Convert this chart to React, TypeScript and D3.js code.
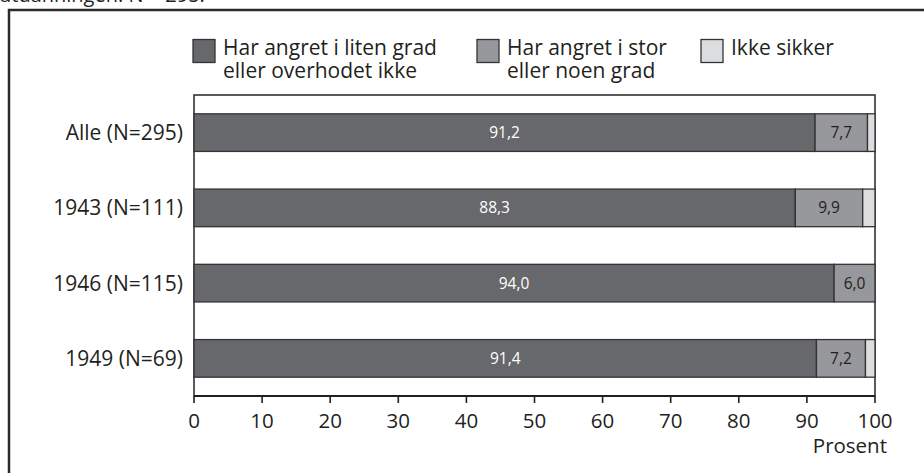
import React from "react";
import * as d3 from "d3";

const categories = ["Alle (N=295)", "1943 (N=111)", "1946 (N=115)", "1949 (N=69)"];
const seriesNames = [
  ["Har angret i liten grad", "eller overhodet ikke"],
  ["Har angret i stor", "eller noen grad"],
  ["Ikke sikker"],
];
const littleOrNot = [91.2, 88.3, 94.0, 91.4];
const greatOrSome = [7.7, 9.9, 6.0, 7.2];
const notSure = [1.1, 1.8, 0, 1.4];
const ticks = [0, 10, 20, 30, 40, 50, 60, 70, 80, 90, 100];
const colors = ["#67686b", "#97989b", "#dcdddf"];
const fmt = (v: number) => v.toFixed(1).replace(".", ",");

export default function App() {
  const W = 924, H = 473;
  const left = 194, right = 875, top = 95, bottom = 396;
  const x = d3.scaleLinear().domain([0, 100]).range([left, right]);
  const y = d3.scaleBand<string>().domain(categories).range([top, bottom]).paddingInner(0.5).paddingOuter(0.25);
  const series = [littleOrNot, greatOrSome, notSure];
  const font = "'Open Sans', 'DejaVu Sans', sans-serif";
  const ink = "#231f20";
  const legendX = [193, 477, 701];

  return (
    <svg width={W} height={H} style={{ position: "absolute", left: 0, top: 0, background: "#fff" }} fontFamily={font}>
      <text x={-1} y={2} fontSize={20} fill={ink}>utdanningen. N = 295.</text>
      <path d={`M9,${H} V10 H${W}`} fill="none" stroke="#2b2b2b" strokeWidth={2.5} />
      {/* legend */}
      {seriesNames.map((lines, i) => (
        <g key={i}>
          <rect x={legendX[i]} y={39.5} width={22} height={23} fill={colors[i]} stroke="#333" strokeWidth={1.3} />
          <text x={legendX[i] + 30} y={55} fontSize={21} fill={ink}>
            {lines.map((ln, j) => (
              <tspan key={j} x={legendX[i] + 30} dy={j === 0 ? 0 : 23}>{ln}</tspan>
            ))}
          </text>
        </g>
      ))}
      {/* plot frame */}
      <rect x={left} y={top} width={right - left} height={bottom - top} fill="none" stroke="#333" strokeWidth={1.6} />
      {/* bars */}
      {categories.map((c, ci) => {
        let acc = 0;
        return (
          <g key={c}>
            {series.map((s, si) => {
              const v = s[ci];
              const x0 = x(acc);
              acc += v;
              if (v <= 0) return null;
              const x1 = x(Math.min(acc, 100));
              return (
                <g key={si}>
                  <rect x={x0} y={y(c)!} width={x1 - x0} height={y.bandwidth()} fill={colors[si]} stroke="#333" strokeWidth={1.3} />
                  {si < 2 && (
                    <text x={(x0 + x1) / 2} y={y(c)! + y.bandwidth() / 2 + 5.5} textAnchor="middle" fontSize={15.5} fill={si === 0 ? "#fff" : ink}>{fmt(v)}</text>
                  )}
                </g>
              );
            })}
          </g>
        );
      })}
      {/* y labels */}
      {categories.map((c) => (
        <text key={c} x={183} y={y(c)! + y.bandwidth() / 2 + 7.5} textAnchor="end" fontSize={21} fill={ink}>{c}</text>
      ))}
      {/* x axis */}
      <line x1={left} x2={right} y1={bottom} y2={bottom} stroke="#231f20" strokeWidth={2.2} />
      {ticks.map((t) => (
        <g key={t}>
          <line x1={x(t)} x2={x(t)} y1={bottom} y2={bottom + 7} stroke="#231f20" strokeWidth={1.6} />
          <text x={x(t)} y={428} textAnchor="middle" fontSize={20.5} fill={ink}>{t}</text>
        </g>
      ))}
      <text x={887} y={453} textAnchor="end" fontSize={20.5} fill={ink}>Prosent</text>
    </svg>
  );
}
